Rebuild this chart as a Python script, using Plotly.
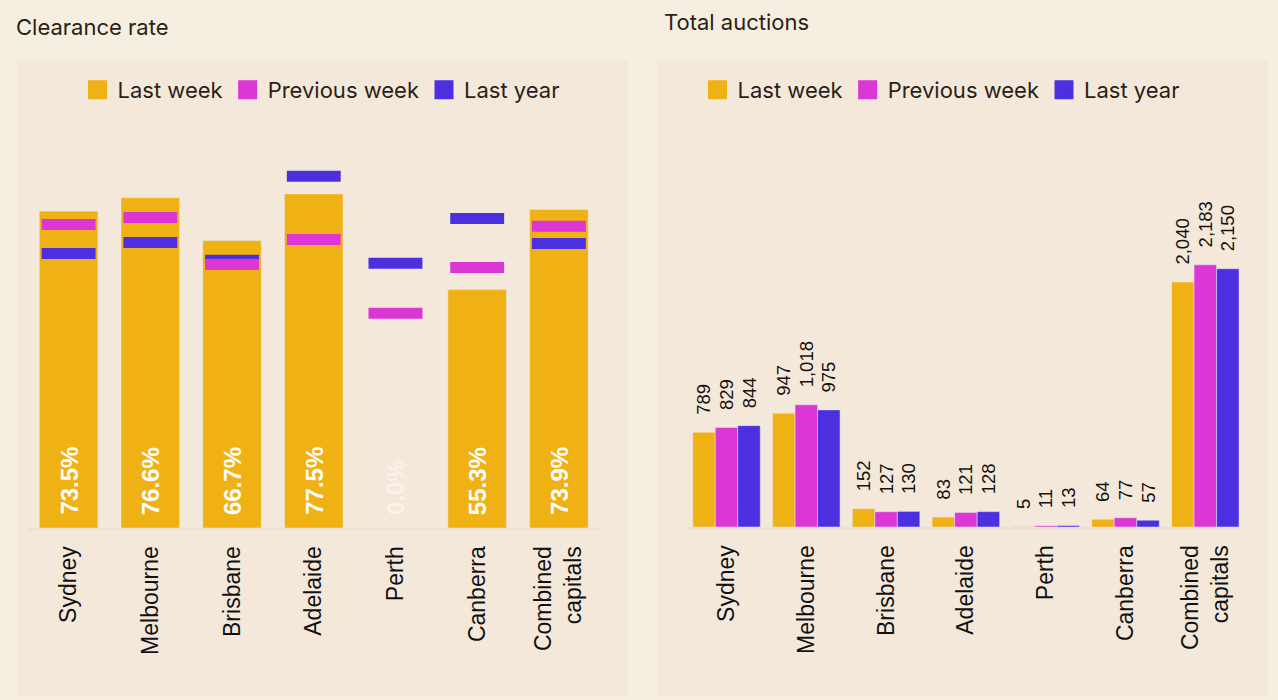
import plotly.graph_objects as go

cities = ["Sydney", "Melbourne", "Brisbane", "Adelaide", "Perth", "Canberra", "Combined<br>capitals"]

# Clearance rate (%)
clr_last_week = [73.5, 76.6, 66.7, 77.5, 0.0, 55.3, 73.9]
clr_prev_week = [70.4, 72.0, 61.1, 66.9, 49.8, 60.4, 70.0]
clr_last_year = [63.7, 66.2, 62.1, 81.6, 61.4, 71.8, 66.0]

# Total auctions
auc_last_week = [789, 947, 152, 83, 5, 64, 2040]
auc_prev_week = [829, 1018, 127, 121, 11, 77, 2183]
auc_last_year = [844, 975, 130, 128, 13, 57, 2150]

series_names = ["Last week", "Previous week", "Last year"]
colors = ["#F0B114", "#DC37D4", "#4C30DF"]

FONT = "Inter"
AXFONT = "Liberation Sans, Arial, sans-serif"
DARK = "#2A1F17"
W, H = 1278, 700

fig = go.Figure()

# ---- Left: clearance rate ----
fig.add_trace(go.Bar(x=cities, y=clr_last_week, marker_color=colors[0], width=0.717,
                     offsetgroup="L", showlegend=False, xaxis="x", yaxis="y"))
fig.add_trace(go.Scatter(x=cities, y=clr_last_year, mode="markers", showlegend=False,
                         marker=dict(symbol="line-ew", size=38.5, line=dict(color=colors[2], width=11)),
                         xaxis="x", yaxis="y"))
fig.add_trace(go.Scatter(x=cities, y=clr_prev_week, mode="markers", showlegend=False,
                         marker=dict(symbol="line-ew", size=38.5, line=dict(color=colors[1], width=11)),
                         xaxis="x", yaxis="y"))

# ---- Right: total auctions ----
for vals, name, col in zip([auc_last_week, auc_prev_week, auc_last_year], series_names, colors):
    fig.add_trace(go.Bar(x=cities, y=vals, name=name, marker_color=col, showlegend=False,
                         text=["\u2002\u00a0" + f"{v:,}" for v in vals],
                         textposition="outside", textangle=-90, constraintext="none",
                         cliponaxis=False, textfont=dict(family=AXFONT, size=18.5, color="#15110E"),
                         xaxis="x2", yaxis="y2"))

# ---- legend entries ----
for lg, xa, ya in [("legend", "x", "y"), ("legend2", "x2", "y2")]:
    for name, col in zip(series_names, colors):
        fig.add_trace(go.Scatter(x=[None], y=[None], mode="markers", name=name, legend=lg,
                                 marker=dict(symbol="square", size=16, color=col,
                                             line=dict(color=col, width=3)),
                                 xaxis=xa, yaxis=ya))

annotations = []
for c, v in zip(cities, clr_last_week):
    annotations.append(dict(x=c, y=0, xref="x", yref="y", text=f"{v:.1f}%", textangle=-90,
                            showarrow=False, yanchor="bottom", yshift=11,
                            font=dict(family=AXFONT, size=24,
                                      color="#FFFFFF" if v > 0 else "rgba(255,255,255,0.45)",
                                      weight="bold")))
annotations.append(dict(x=14/W, y=1 - 27/H, xref="paper", yref="paper", text="Clearance rate",
                        showarrow=False, xanchor="left", yanchor="middle",
                        font=dict(family=FONT, size=22, color=DARK)))
annotations.append(dict(x=662/W, y=1 - 22/H, xref="paper", yref="paper", text="Total auctions",
                        showarrow=False, xanchor="left", yanchor="middle",
                        font=dict(family=FONT, size=22, color=DARK)))

shapes = [
    dict(type="rect", xref="paper", yref="paper", x0=17/W, x1=628/W, y0=4/H, y1=1-60/H,
         fillcolor="#F4E8DA", line=dict(width=0), layer="below"),
    dict(type="rect", xref="paper", yref="paper", x0=657/W, x1=1268/W, y0=4/H, y1=1-60/H,
         fillcolor="#F4E8DA", line=dict(width=0), layer="below"),
]

xaxis_common = dict(type="category", range=[-0.5, 6.5], showgrid=False, zeroline=False, showline=True,
                    linecolor="#ECE1D5", linewidth=2, tickangle=-90, ticks="",
                    ticklabelstandoff=7,
                    tickfont=dict(family=AXFONT, size=23, color="#111111"), fixedrange=True)
yaxis_common = dict(showgrid=False, zeroline=False, showticklabels=False, showline=False, fixedrange=True)

legend_common = dict(orientation="h", xanchor="center", yanchor="middle",
                     bgcolor="rgba(0,0,0,0)", itemsizing="trace",
                     font=dict(family=FONT, size=22, color=DARK))

fig.update_layout(
    width=W, height=H,
    margin=dict(l=0, r=0, t=0, b=0),
    paper_bgcolor="#F7EEE2", plot_bgcolor="rgba(0,0,0,0)",
    barmode="group", bargap=0.154, bargroupgap=0,
    xaxis=dict(domain=[27.75/W, 599.75/W], **xaxis_common),
    yaxis=dict(domain=[172/H, 0.8], range=[0, 90], anchor="x", **yaxis_common),
    xaxis2=dict(domain=[686.6/W, 1245.2/W], anchor="y2", **xaxis_common),
    yaxis2=dict(domain=[173/H, 0.8], range=[0, 3222], anchor="x2", **yaxis_common),
    legend=dict(x=321/W, y=1 - 90/H, **legend_common),
    legend2=dict(x=941/W, y=1 - 90/H, **legend_common),
    annotations=annotations,
    shapes=shapes,
    font=dict(family=FONT, color=DARK),
    showlegend=True,
)

fig.write_html("out.html", config={"displayModeBar": False},
               post_script="document.body.style.margin='0';document.body.style.background='#F7EEE2';")
